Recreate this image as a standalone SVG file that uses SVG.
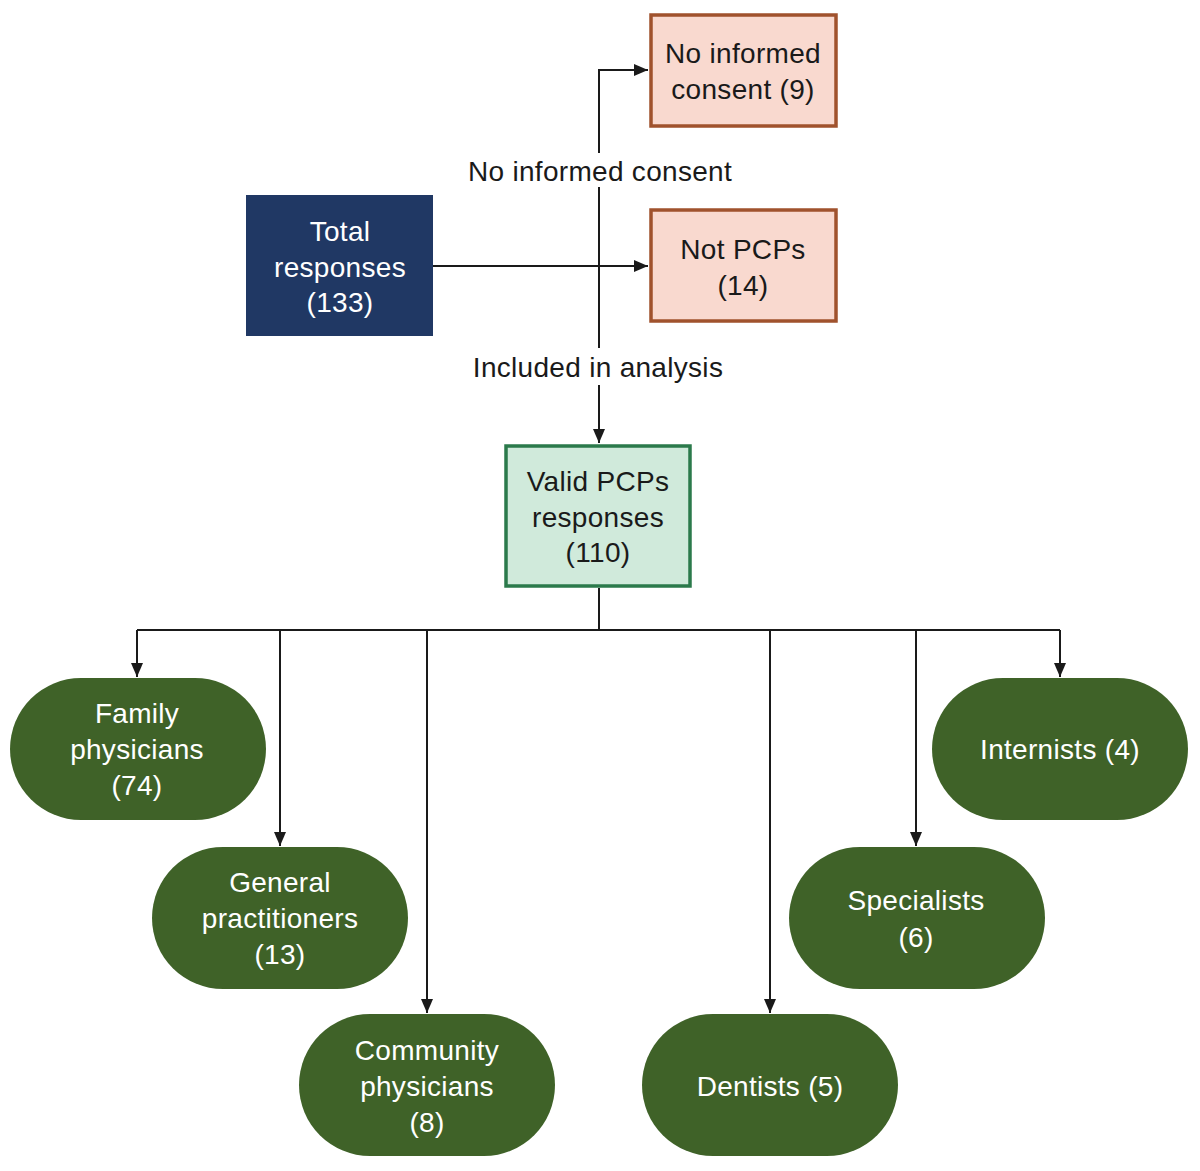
<svg xmlns="http://www.w3.org/2000/svg" width="1200" height="1171" viewBox="0 0 1200 1171">
<defs>
<marker id="ah" markerWidth="14" markerHeight="14" viewBox="0 0 14 14" refX="14" refY="7" orient="auto" markerUnits="userSpaceOnUse">
<path d="M0,1 L14,7 L0,13 Z" fill="#1a1a1a"/>
</marker>
<style>
.t{font-family:"Liberation Sans",Arial,sans-serif;font-size:28px;text-anchor:middle;letter-spacing:0.3px}
.w{fill:#ffffff}
.k{fill:#1a1a1a}
.ln{stroke:#1a1a1a;stroke-width:2;fill:none}
.pill{fill:#3f6228}
.pink{fill:#f9d9cf;stroke:#a0522d;stroke-width:3.5}
</style>
</defs>
<rect width="1200" height="1171" fill="#ffffff"/>
<g id="connectors">
<path class="ln" d="M599,153 V70 H648" marker-end="url(#ah)"/>
<path class="ln" d="M599,187 V348"/>
<path class="ln" d="M599,385 V443" marker-end="url(#ah)"/>
<path class="ln" d="M433,266 H648" marker-end="url(#ah)"/>
<path class="ln" d="M599,588 V630"/>
<path class="ln" d="M137,630 H1060"/>
<path class="ln" d="M137,630 V677" marker-end="url(#ah)"/>
<path class="ln" d="M280,630 V846" marker-end="url(#ah)"/>
<path class="ln" d="M427,630 V1013" marker-end="url(#ah)"/>
<path class="ln" d="M770,630 V1013" marker-end="url(#ah)"/>
<path class="ln" d="M916,630 V846" marker-end="url(#ah)"/>
<path class="ln" d="M1060,630 V677" marker-end="url(#ah)"/>
<text class="t k" x="600" y="181">No informed consent</text>
<text class="t k" x="598" y="377">Included in analysis</text>
</g>
<g id="total">
<rect x="246" y="195" width="187" height="141" fill="#203864"/>
<text class="t w" x="340" y="241">Total</text>
<text class="t w" x="340" y="277">responses</text>
<text class="t w" x="340" y="312">(133)</text>
</g>
<g id="noconsent">
<rect class="pink" x="651" y="15" width="185" height="111"/>
<text class="t k" x="743" y="63">No informed</text>
<text class="t k" x="743" y="99">consent (9)</text>
</g>
<g id="notpcps">
<rect class="pink" x="651" y="210" width="185" height="111"/>
<text class="t k" x="743" y="259">Not PCPs</text>
<text class="t k" x="743" y="295">(14)</text>
</g>
<g id="valid">
<rect x="506" y="446" width="184" height="140" fill="#d0eadb" stroke="#2b7a4b" stroke-width="3.5"/>
<text class="t k" x="598" y="491">Valid PCPs</text>
<text class="t k" x="598" y="527">responses</text>
<text class="t k" x="598" y="562">(110)</text>
</g>
<g id="family">
<rect class="pill" x="10" y="678" width="256" height="142" rx="71"/>
<text class="t w" x="137" y="723">Family</text>
<text class="t w" x="137" y="759">physicians</text>
<text class="t w" x="137" y="795">(74)</text>
</g>
<g id="general">
<rect class="pill" x="152" y="847" width="256" height="142" rx="71"/>
<text class="t w" x="280" y="892">General</text>
<text class="t w" x="280" y="928">practitioners</text>
<text class="t w" x="280" y="964">(13)</text>
</g>
<g id="community">
<rect class="pill" x="299" y="1014" width="256" height="142" rx="71"/>
<text class="t w" x="427" y="1060">Community</text>
<text class="t w" x="427" y="1096">physicians</text>
<text class="t w" x="427" y="1132">(8)</text>
</g>
<g id="dentists">
<rect class="pill" x="642" y="1014" width="256" height="142" rx="71"/>
<text class="t w" x="770" y="1096">Dentists (5)</text>
</g>
<g id="specialists">
<rect class="pill" x="789" y="847" width="256" height="142" rx="71"/>
<text class="t w" x="916" y="910">Specialists</text>
<text class="t w" x="916" y="947">(6)</text>
</g>
<g id="internists">
<rect class="pill" x="932" y="678" width="256" height="142" rx="71"/>
<text class="t w" x="1060" y="759">Internists (4)</text>
</g>
</svg>
